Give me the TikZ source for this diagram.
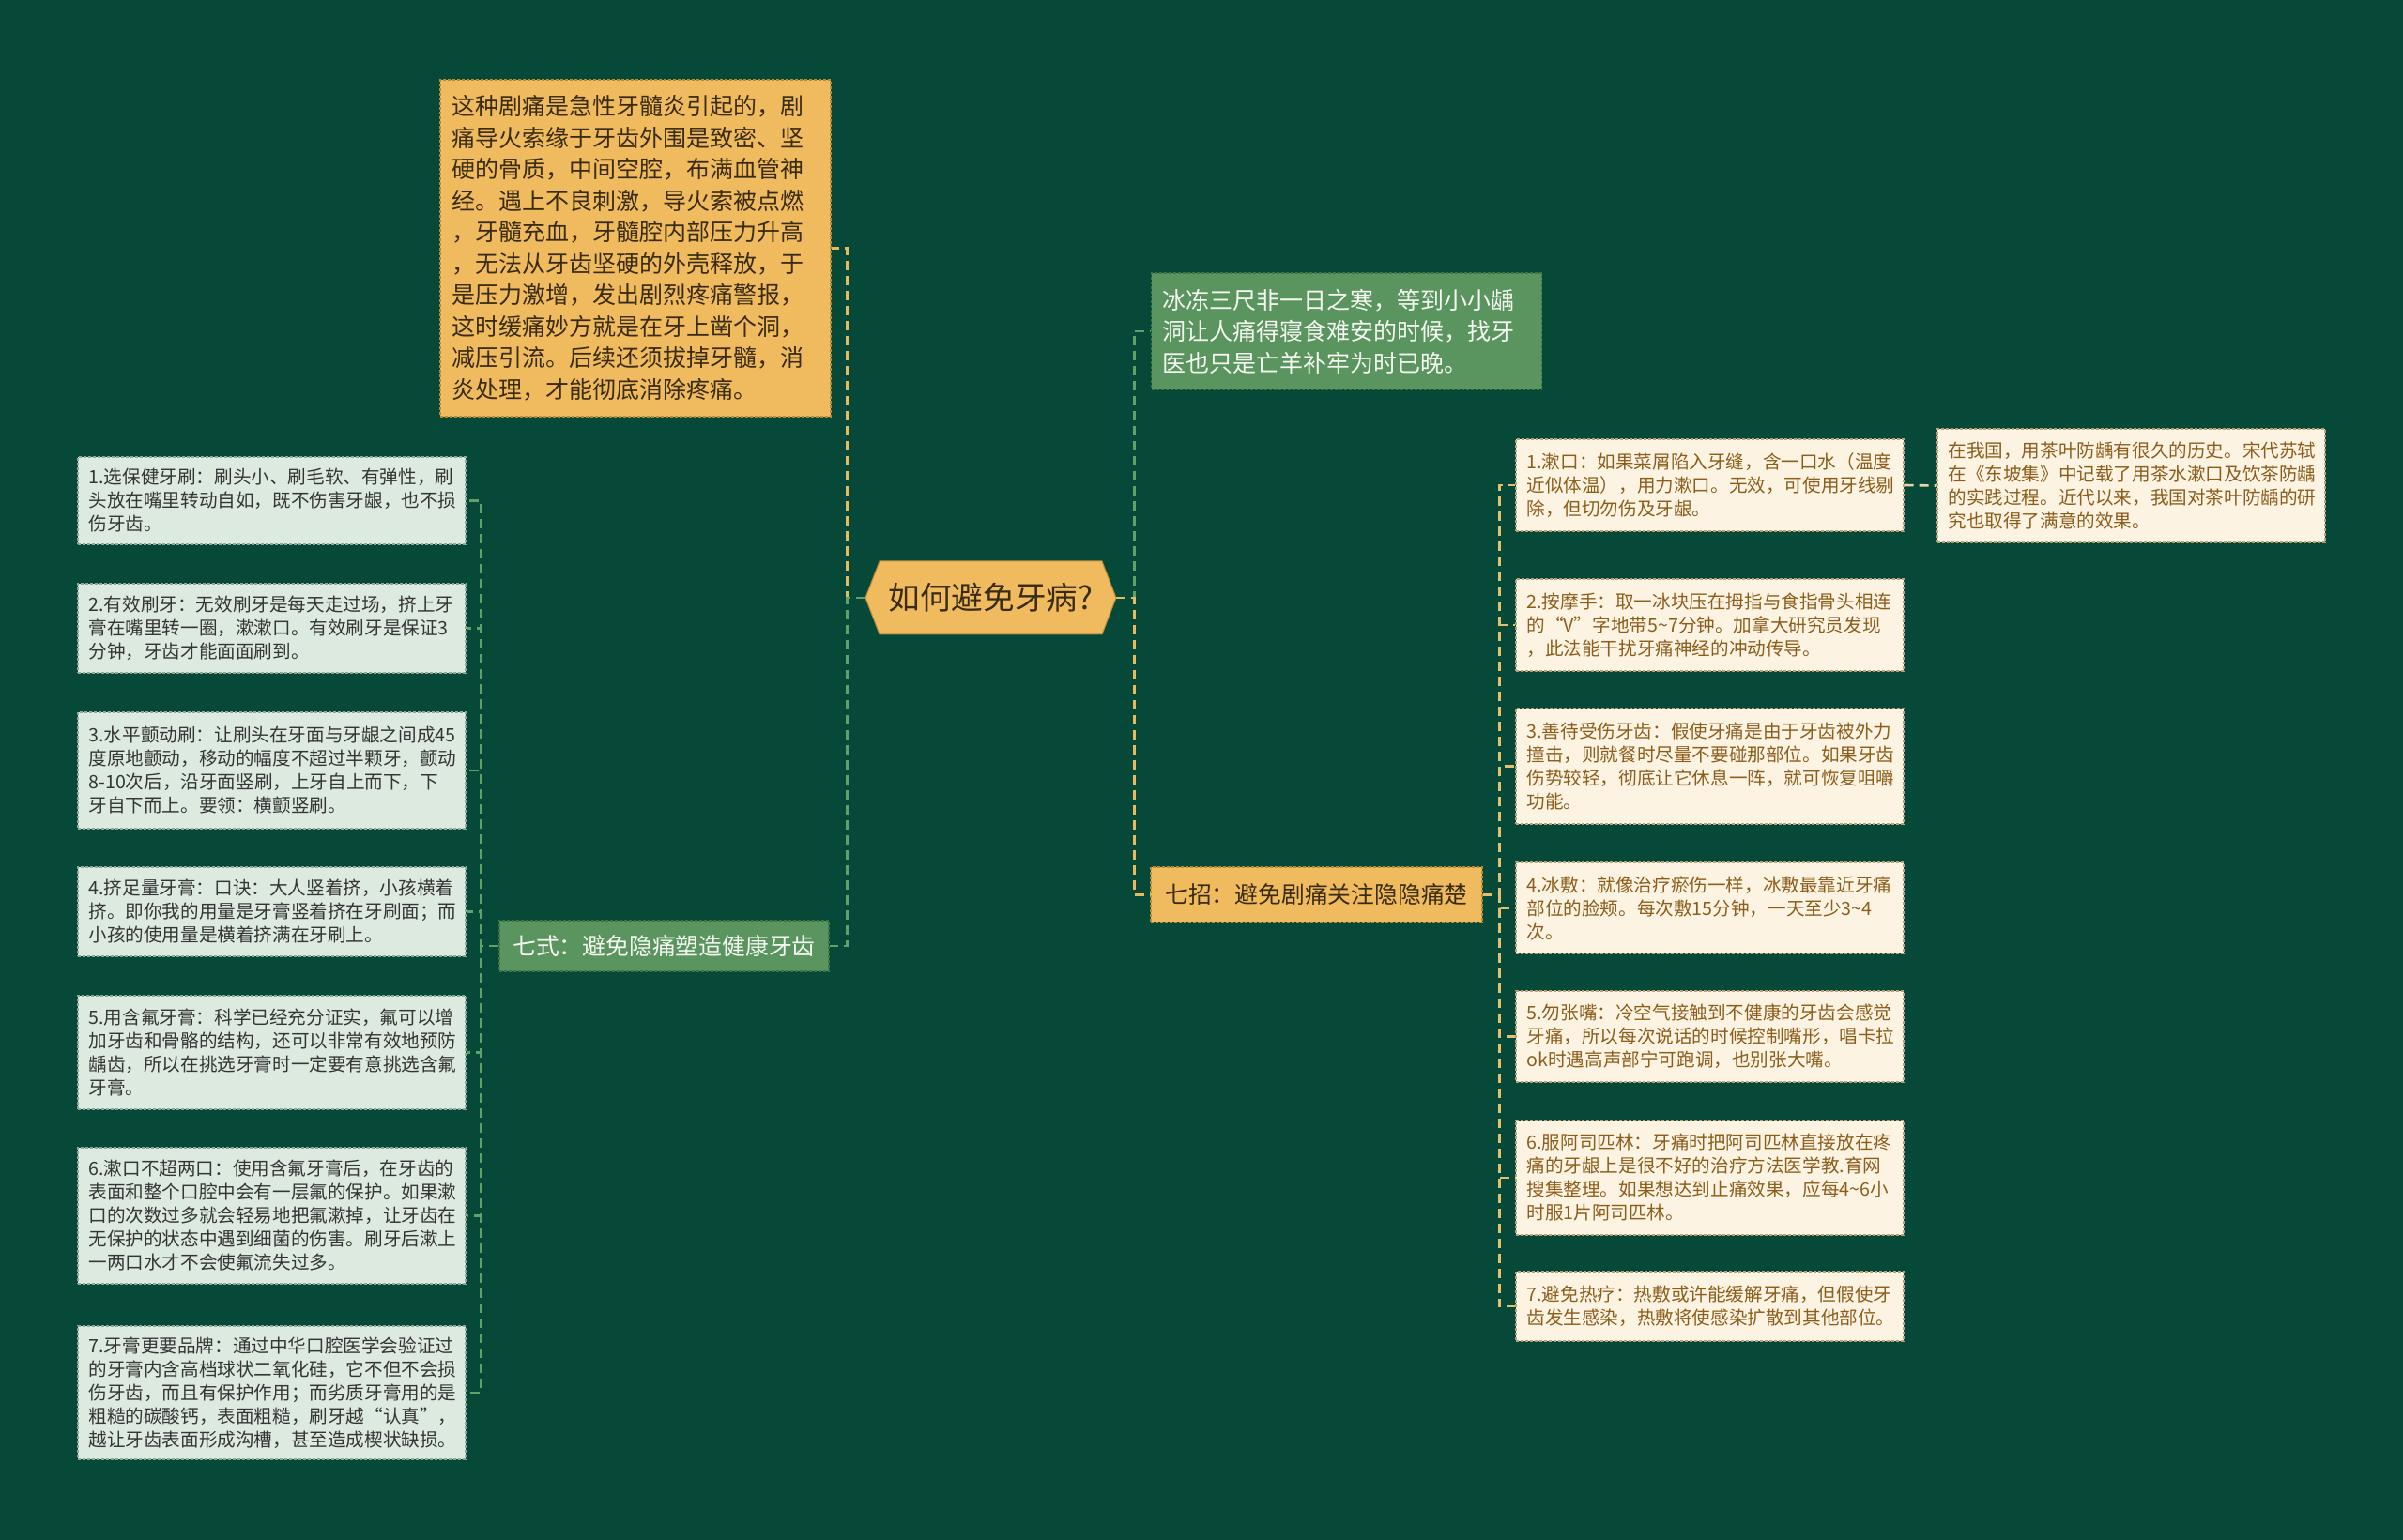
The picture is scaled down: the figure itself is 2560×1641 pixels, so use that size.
\documentclass[tikz,border=0pt]{standalone}
\usepackage{fontspec}
\setmainfont{Noto Sans CJK SC}
\usetikzlibrary{calc}
\definecolor{bg}{HTML}{064939}
\definecolor{ofill}{HTML}{F0BB5E}
\definecolor{obord}{HTML}{B88A35}
\definecolor{otext}{HTML}{3A2C12}
\definecolor{gfill}{HTML}{5A945F}
\definecolor{gbord}{HTML}{3F7445}
\definecolor{gtext}{HTML}{F6F8F2}
\definecolor{lfill}{HTML}{DCEAE0}
\definecolor{lbord}{HTML}{8FA898}
\definecolor{ltext}{HTML}{353535}
\definecolor{rfill}{HTML}{FDF3E2}
\definecolor{rbord}{HTML}{B9A27A}
\definecolor{rtext}{HTML}{8C5E1C}
\definecolor{oline}{HTML}{E8B95E}
\definecolor{gline}{HTML}{62A06A}
\definecolor{rline}{HTML}{E2C070}
\definecolor{cline}{HTML}{E6D8A6}
\newcommand{\tld}{{\char"007E}}
\tikzset{
  conn/.style={line width=1.3pt, dash pattern=on 5pt off 3pt},
  bigbox/.style={line width=0.6pt, dash pattern=on 1.5pt off 1pt, font=\fontsize{12.5}{16.75}\selectfont, align=left, text width=196pt, inner xsep=6pt, inner ysep=0pt, anchor=center},
  obox/.style={bigbox, draw=obord, fill=ofill, text=otext},
  gbox/.style={bigbox, draw=gbord, fill=gfill, text=gtext},
  midbox/.style={line width=0.6pt, dash pattern=on 1.5pt off 1pt, font=\fontsize{12.4}{15}\selectfont, align=center, inner sep=0pt, anchor=center},
  lbox/.style={draw=lbord, line width=0.6pt, dash pattern=on 1.5pt off 1pt, fill=lfill, text=ltext, font=\fontsize{9.8}{12.5}\selectfont, align=left, text width=195pt, inner xsep=5.75pt, inner ysep=0pt, anchor=center},
  rbox/.style={lbox, draw=rbord, fill=rfill, text=rtext},
}
\begin{document}
\begin{tikzpicture}[x=0.5pt,y=-0.5pt]
\useasboundingbox (0,0) rectangle (2560,1641);
\fill[bg] (0,0) rectangle (2560,1641);

% root hexagon
\filldraw[fill=ofill, draw=obord, line width=0.5pt] (922,637) -- (937,598) -- (1174,598) -- (1189,637) -- (1174,676) -- (937,676) -- cycle;
\node[inner sep=0pt, minimum width=133.5pt, minimum height=39pt, text=otext, font=\fontsize{16.8}{18}\selectfont] (root) at (1055.5,637) {如何避免牙病?};

% top orange box
\node[obox, minimum height=179.5pt] (O) at (677,264.5) {这种剧痛是急性牙髓炎引起的，剧\\
痛导火索缘于牙齿外围是致密、坚\\
硬的骨质，中间空腔，布满血管神\\
经。遇上不良刺激，导火索被点燃\\
，牙髓充血，牙髓腔内部压力升高\\
，无法从牙齿坚硬的外壳释放，于\\
是压力激增，发出剧烈疼痛警报，\\
这时缓痛妙方就是在牙上凿个洞，\\
减压引流。后续还须拔掉牙髓，消\\
炎处理，才能彻底消除疼痛。};

% green box
\node[gbox, minimum height=62pt] (G) at (1434.5,353) {冰冻三尺非一日之寒，等到小小龋\\
洞让人痛得寝食难安的时候，找牙\\
医也只是亡羊补牢为时已晚。};

% branch nodes
\node[midbox, draw=gbord, fill=gfill, text=gtext, minimum width=175.5pt, minimum height=27pt] (QS) at (707.5,1008) {七式：避免隐痛塑造健康牙齿};
\node[midbox, draw=obord, fill=ofill, text=otext, minimum width=176.5pt, minimum height=29.5pt] (QZ) at (1402.5,953.5) {七招：避免剧痛关注隐隐痛楚};

% left small boxes
\node[lbox, minimum height=46.5pt] (L1) at (289.5,533.5) {1.选保健牙刷：刷头小、刷毛软、有弹性，刷\\
头放在嘴里转动自如，既不伤害牙龈，也不损\\
伤牙齿。};
\node[lbox, minimum height=47.5pt] (L2) at (289.5,669.5) {2.有效刷牙：无效刷牙是每天走过场，挤上牙\\
膏在嘴里转一圈，漱漱口。有效刷牙是保证3\\
分钟，牙齿才能面面刷到。};
\node[lbox, minimum height=62pt] (L3) at (289.5,821) {3.水平颤动刷：让刷头在牙面与牙龈之间成45\\
度原地颤动，移动的幅度不超过半颗牙，颤动\\
8-10次后，沿牙面竖刷，上牙自上而下，下\\
牙自下而上。要领：横颤竖刷。};
\node[lbox, minimum height=47.5pt] (L4) at (289.5,971.5) {4.挤足量牙膏：口诀：大人竖着挤，小孩横着\\
挤。即你我的用量是牙膏竖着挤在牙刷面；而\\
小孩的使用量是横着挤满在牙刷上。};
\node[lbox, minimum height=60.5pt] (L5) at (289.5,1121.5) {5.用含氟牙膏：科学已经充分证实，氟可以增\\
加牙齿和骨骼的结构，还可以非常有效地预防\\
龋齿，所以在挑选牙膏时一定要有意挑选含氟\\
牙膏。};
\node[lbox, minimum height=72.5pt] (L6) at (289.5,1295.5) {6.漱口不超两口：使用含氟牙膏后，在牙齿的\\
表面和整个口腔中会有一层氟的保护。如果漱\\
口的次数过多就会轻易地把氟漱掉，让牙齿在\\
无保护的状态中遇到细菌的伤害。刷牙后漱上\\
一两口水才不会使氟流失过多。};
\node[lbox, minimum height=71pt] (L7) at (289.5,1484) {7.牙膏更要品牌：通过中华口腔医学会验证过\\
的牙膏内含高档球状二氧化硅，它不但不会损\\
伤牙齿，而且有保护作用；而劣质牙膏用的是\\
粗糙的碳酸钙，表面粗糙，刷牙越“认真”，\\
越让牙齿表面形成沟槽，甚至造成楔状缺损。};

% right small boxes
\node[rbox, minimum height=49pt] (R1) at (1821.5,517) {1.漱口：如果菜屑陷入牙缝，含一口水（温度\\
近似体温），用力漱口。无效，可使用牙线剔\\
除，但切勿伤及牙龈。};
\node[rbox, minimum height=60.5pt] (RC) at (2270.5,517.5) {在我国，用茶叶防龋有很久的历史。宋代苏轼\\
在《东坡集》中记载了用茶水漱口及饮茶防龋\\
的实践过程。近代以来，我国对茶叶防龋的研\\
究也取得了满意的效果。};
\node[rbox, minimum height=49pt] (R2) at (1821.5,666) {2.按摩手：取一冰块压在拇指与食指骨头相连\\
的“V”字地带5\tld7分钟。加拿大研究员发现\\
，此法能干扰牙痛神经的冲动传导。};
\node[rbox, minimum height=61.5pt] (R3) at (1821.5,816.5) {3.善待受伤牙齿：假使牙痛是由于牙齿被外力\\
撞击，则就餐时尽量不要碰那部位。如果牙齿\\
伤势较轻，彻底让它休息一阵，就可恢复咀嚼\\
功能。};
\node[rbox, minimum height=48.5pt] (R4) at (1821.5,967.5) {4.冰敷：就像治疗瘀伤一样，冰敷最靠近牙痛\\
部位的脸颊。每次敷15分钟，一天至少3\tld4\\
次。};
\node[rbox, minimum height=48.5pt] (R5) at (1821.5,1104.5) {5.勿张嘴：冷空气接触到不健康的牙齿会感觉\\
牙痛，所以每次说话的时候控制嘴形，唱卡拉\\
ok时遇高声部宁可跑调，也别张大嘴。};
\node[rbox, minimum height=61pt] (R6) at (1821.5,1255) {6.服阿司匹林：牙痛时把阿司匹林直接放在疼\\
痛的牙龈上是很不好的治疗方法医学教.育网\\
搜集整理。如果想达到止痛效果，应每4\tld6小\\
时服1片阿司匹林。};
\node[rbox, minimum height=37pt] (R7) at (1821.5,1392) {7.避免热疗：热敷或许能缓解牙痛，但假使牙\\
齿发生感染，热敷将使感染扩散到其他部位。};

% connectors from root
\draw[conn, draw=oline] (root.west) -- ++(-19,0) |- (O.east);
\draw[conn, draw=gline] (root.west) -- ++(-19,0) |- (QS.east);
\draw[conn, draw=gline] (root.east) -- ++(19,0) |- (G.west);
\draw[conn, draw=oline] (root.east) -- ++(19,0) |- (QZ.west);

% connectors from 七式
\foreach \n in {L1,L2,L3,L4,L5,L6,L7}
  \draw[conn, draw=gline] (QS.west) -- ++(-19,0) |- (\n.east);
% connectors from 七招
\foreach \n in {R1,R2,R3,R4,R5,R6,R7}
  \draw[conn, draw=rline] (QZ.east) -- ++(18,0) |- (\n.west);
% R1 -> child
\draw[conn, draw=cline] (R1.east) -- (RC.west);
\end{tikzpicture}
\end{document}
